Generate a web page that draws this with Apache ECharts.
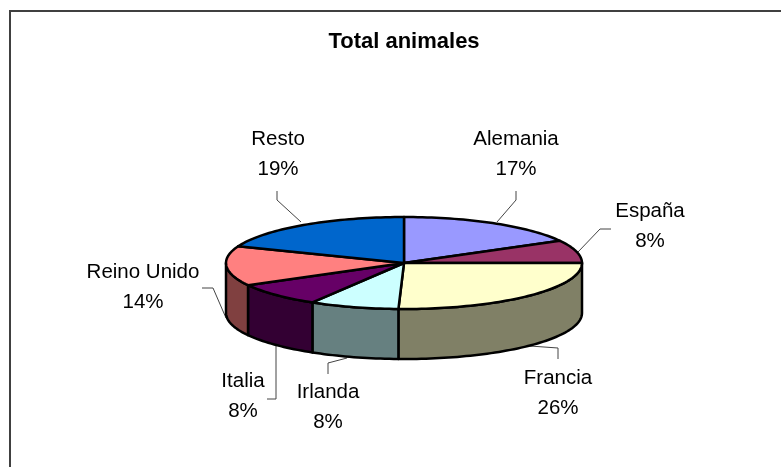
<!DOCTYPE html>
<html>
<head>
<meta charset="utf-8">
<style>html,body{margin:0;padding:0;background:#fff}#c{width:781px;height:467px}</style>
<script src="https://cdn.jsdelivr.net/npm/echarts@6/dist/echarts.min.js"></script>
</head>
<body>
<div id="c"></div>
<script>
var title = 'Total animales';
var categories = ['Alemania', 'España', 'Francia', 'Irlanda', 'Italia', 'Reino Unido', 'Resto'];
var shares = [17.0, 8.0, 25.5, 8.1, 8.4, 13.9, 19.1];
var topColors = ['#9999FF', '#993366', '#FFFFCC', '#CCFFFF', '#660066', '#FF8080', '#0066CC'];
var sideColors = ['#4D4D80', '#4D1A33', '#808066', '#668080', '#330033', '#804040', '#003366'];

// layout, kept apart from the data
var labelCentres = [[516, 154], [650, 226], [558, 393], [328, 407], [243, 396], [143, 287], [278, 154]];
var leaders = [
  [[516, 191], [516, 200], [497, 222]],
  [[611, 229], [600, 229], [578, 252]],
  [[558, 359], [558, 348], [530, 346]],
  [[328, 374], [328, 363], [347, 358]],
  [[267, 399], [276, 399], [276, 345]],
  [[202, 288], [213, 288], [226, 318]],
  [[277, 191], [277, 200], [301, 222]]
];
var cx = 404, cy = 263, rx = 178, ry = 46, depth = 50;

var total = shares.reduce(function (a, b) { return a + b; }, 0);
function pointAt(deg, dy) {
  var r = deg * Math.PI / 180;
  return [cx + rx * Math.sin(r), cy - ry * Math.cos(r) + (dy || 0)];
}
function arc(a0, a1, dy) {
  var pts = [], n = Math.max(2, Math.ceil(Math.abs(a1 - a0) / 1.5));
  for (var i = 0; i <= n; i++) pts.push(pointAt(a0 + (a1 - a0) * i / n, dy));
  return pts;
}
function renderSlice(params, api) {
  var i = params.dataIndex;
  var a0 = api.value(1) / total * 360;
  var a1 = a0 + api.value(0) / total * 360;
  var children = [];
  var s0 = Math.max(a0, 90), s1 = Math.min(a1, 270);
  if (s1 > s0) {
    children.push({
      type: 'polygon', z2: 1,
      shape: { points: arc(s0, s1, 0).concat(arc(s1, s0, depth)) },
      style: { fill: sideColors[i], stroke: '#000', lineWidth: 2.5, lineJoin: 'round' }
    });
  }
  children.push({
    type: 'polygon', z2: 2,
    shape: { points: [[cx, cy]].concat(arc(a0, a1, 0)) },
    style: { fill: topColors[i], stroke: '#000', lineWidth: 2.5, lineJoin: 'round' }
  });
  children.push({
    type: 'polyline', z2: 0,
    shape: { points: leaders[i] },
    style: { fill: null, stroke: '#444', lineWidth: 1 }
  });
  children.push({
    type: 'text', z2: 3,
    style: {
      x: labelCentres[i][0], y: labelCentres[i][1],
      text: categories[i] + '\n' + Math.round(api.value(0) / total * 100) + '%',
      align: 'center', verticalAlign: 'middle',
      font: '20.5px "Liberation Sans", Arial, sans-serif',
      lineHeight: 30, fill: '#000'
    }
  });
  return { type: 'group', children: children };
}
var cumulative = [];
shares.reduce(function (sum, v, i) { cumulative[i] = sum; return sum + v; }, 0);

var chart = echarts.init(document.getElementById('c'), null, { renderer: 'canvas' });
chart.setOption({
  animation: false,
  backgroundColor: '#fff',
  title: {
    text: title, left: 399, top: 26, textAlign: 'center',
    textStyle: { fontFamily: '"Liberation Sans", Arial, sans-serif', fontSize: 22, fontWeight: 'bold', color: '#000' }
  },
  graphic: [{
    type: 'polyline', z: -1, silent: true,
    shape: { points: [[10, 470], [10, 11], [785, 11]] },
    style: { fill: null, stroke: '#404040', lineWidth: 2 }
  }],
  series: [{
    type: 'custom',
    coordinateSystem: 'none',
    silent: true,
    clip: false,
    renderItem: renderSlice,
    data: shares.map(function (v, i) { return { name: categories[i], value: [v, cumulative[i]] }; })
  }]
});
</script>
</body>
</html>
